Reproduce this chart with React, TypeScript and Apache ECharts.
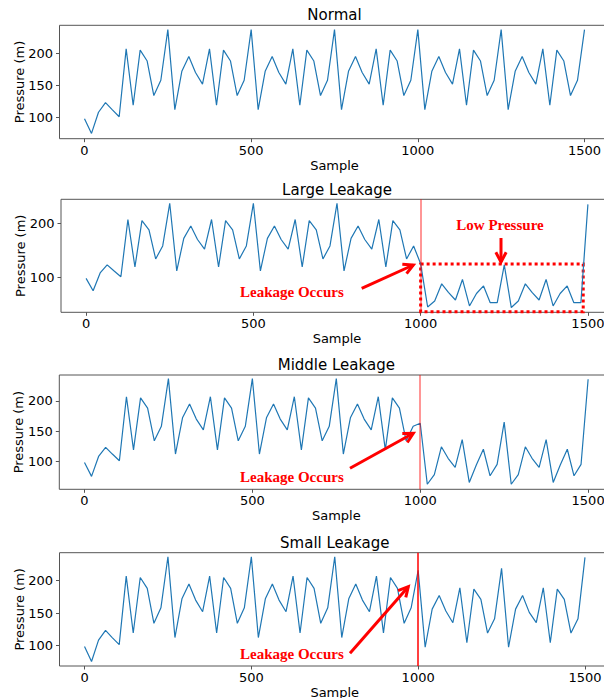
import React, { useEffect, useRef } from "react";
import * as echarts from "echarts";

// Sample index of every plotted point (x axis)
const SAMPLES = [
  0, 21, 42, 63, 83, 104, 125, 146, 167, 188, 208, 229,
  250, 271, 292, 313, 333, 354, 375, 396, 417, 438, 458, 479,
  500, 521, 542, 563, 583, 604, 625, 646, 667, 688, 708, 729,
  750, 771, 792, 813, 833, 854, 875, 896, 917, 938, 958, 979,
  1000, 1021, 1042, 1063, 1083, 1104, 1125, 1146, 1167, 1188, 1208, 1229,
  1250, 1271, 1292, 1313, 1333, 1354, 1375, 1396, 1417, 1438, 1458, 1479,
  1500,
];

const NORMAL = [
  98, 75, 108, 123, 112, 101, 207, 119, 205, 188, 134, 158,
  237, 112, 172, 195, 170, 152, 207, 119, 205, 188, 134, 158,
  237, 112, 172, 195, 170, 152, 207, 119, 205, 188, 134, 158,
  237, 112, 172, 195, 170, 152, 207, 119, 205, 188, 134, 158,
  237, 112, 172, 195, 170, 152, 207, 119, 205, 188, 134, 158,
  237, 112, 172, 195, 170, 152, 207, 119, 205, 188, 134, 158,
  237,
];

const LARGE = [
  98, 75, 108, 123, 112, 101, 207, 119, 205, 188, 134, 158,
  237, 112, 172, 195, 170, 152, 207, 119, 205, 188, 134, 158,
  237, 112, 172, 195, 170, 152, 207, 119, 205, 188, 134, 158,
  237, 112, 172, 195, 170, 152, 207, 119, 205, 188, 134, 158,
  125, 45, 56, 88, 72, 58, 96, 47, 70, 84, 53, 53,
  123, 44, 56, 88, 72, 58, 96, 47, 70, 84, 53, 53,
  235,
];

const MIDDLE = [
  98, 75, 108, 123, 112, 101, 207, 119, 205, 188, 134, 158,
  237, 112, 172, 195, 170, 152, 207, 119, 205, 188, 134, 158,
  237, 112, 172, 195, 170, 152, 207, 119, 205, 188, 134, 158,
  237, 112, 172, 195, 170, 152, 207, 119, 205, 188, 134, 158,
  163, 62, 78, 124, 105, 90, 136, 65, 94, 120, 76, 95,
  165, 62, 78, 124, 105, 90, 136, 65, 94, 120, 76, 95,
  236,
];

const SMALL = [
  98, 75, 108, 123, 112, 101, 207, 119, 205, 188, 134, 158,
  237, 112, 172, 195, 170, 152, 207, 119, 205, 188, 134, 158,
  237, 112, 172, 195, 170, 152, 207, 119, 205, 188, 134, 158,
  237, 112, 172, 195, 170, 152, 207, 119, 205, 188, 134, 158,
  216, 97, 156, 177, 153, 135, 189, 104, 187, 171, 119, 141,
  219, 97, 156, 177, 151, 135, 189, 104, 187, 171, 119, 141,
  236,
];

const SERIES_VALUES = [NORMAL, LARGE, MIDDLE, SMALL];
const TITLES = ["Normal", "Large Leakage", "Middle Leakage", "Small Leakage"];
const X_TICKS = [0, 500, 1000, 1500];
const Y_TICKS = [[100, 150, 200], [100, 200], [100, 150, 200], [100, 150, 200]];
const LEAK_SAMPLE = 1000;
const LOW_PRESSURE_BOX = { x0: 1000, x1: 1486, yTop: 124.6, yBottom: 36.3 };

// layout (pixels) and axis ranges for each panel
const LAYOUT = [
  { left: 59.5, top: 25.3, width: 550, height: 113.4, yMin: 66.7, yMax: 243.8, titleY: 15.3 },
  { left: 61, top: 199.3, width: 552, height: 113, yMin: 35.2, yMax: 244.4, titleY: 190 },
  { left: 59.3, top: 375, width: 554, height: 114.3, yMin: 53.6, yMax: 243, titleY: 365 },
  { left: 59.5, top: 552.7, width: 550.5, height: 113.3, yMin: 68, yMax: 243.3, titleY: 542.5 },
];
const LEAK_LINE_COLORS = ["", "rgba(255,0,0,0.55)", "rgba(255,0,0,0.55)", "#ff0000"];

const ANNOTATIONS = [
  { text: "Low Pressure", x: 500, y: 225, align: "center" },
  { text: "Leakage Occurs", x: 240, y: 292.3, align: "left" },
  { text: "Leakage Occurs", x: 240, y: 477.3, align: "left" },
  { text: "Leakage Occurs", x: 240, y: 654.3, align: "left" },
];
const ARROWS = [
  [501, 238, 501, 262],
  [361.7, 288.3, 413.3, 265],
  [350, 468.3, 413.3, 433.3],
  [350, 653.3, 408.3, 586.7],
];

const FONT = '"DejaVu Sans", sans-serif';
const LINE_BLUE = "#1f77b4";
const AXIS_GRAY = "#555555";

function arrowGraphics(a: number[]) {
  const [x1, y1, x2, y2] = a;
  const dx = x2 - x1;
  const dy = y2 - y1;
  const len = Math.hypot(dx, dy);
  const ux = dx / len;
  const uy = dy / len;
  const L = 11;
  const ang = (28 * Math.PI) / 180;
  const rot = (t: number) => [ux * Math.cos(t) - uy * Math.sin(t), ux * Math.sin(t) + uy * Math.cos(t)];
  const r1 = rot(ang);
  const r2 = rot(-ang);
  return [
    {
      type: "line",
      shape: { x1, y1, x2, y2 },
      style: { stroke: "#ff0000", lineWidth: 3 },
      z: 100,
    },
    {
      type: "polyline",
      shape: {
        points: [
          [x2 - L * r1[0], y2 - L * r1[1]],
          [x2, y2],
          [x2 - L * r2[0], y2 - L * r2[1]],
        ],
      },
      style: { stroke: "#ff0000", lineWidth: 3, fill: null, lineJoin: "miter" },
      z: 100,
    },
  ];
}

export default function App() {
  const ref = useRef<HTMLDivElement>(null);

  useEffect(() => {
    if (!ref.current) return;
    const chart = echarts.init(ref.current, undefined, { renderer: "svg" });

    const grids = LAYOUT.map((l) => ({
      left: l.left,
      top: l.top,
      width: l.width,
      height: l.height,
      show: true,
      borderColor: AXIS_GRAY,
      borderWidth: 1,
      backgroundColor: "transparent",
      containLabel: false,
      outerBoundsMode: "none",
    }));

    const xAxes = LAYOUT.map((l, i) => ({
      type: "value",
      gridIndex: i,
      min: -75,
      max: 1575,
      name: "Sample",
      nameLocation: "middle",
      nameGap: 20,
      nameMoveOverlap: false,
      nameTextStyle: { fontFamily: FONT, fontSize: 13, color: "#000" },
      axisLine: { show: false, onZero: false },
      axisTick: { show: true, length: 3.5, customValues: X_TICKS, lineStyle: { color: AXIS_GRAY } },
      axisLabel: {
        customValues: X_TICKS,
        formatter: (v: number) => String(v),
        fontFamily: FONT,
        fontSize: 13,
        color: "#000",
        margin: 5,
      },
      splitLine: { show: false },
    }));

    const yAxes = LAYOUT.map((l, i) => ({
      type: "value",
      gridIndex: i,
      min: l.yMin,
      max: l.yMax,
      name: "Pressure (m)",
      nameLocation: "middle",
      nameRotate: 90,
      nameGap: 34,
      nameMoveOverlap: false,
      nameTextStyle: { fontFamily: FONT, fontSize: 13, color: "#000" },
      axisLine: { show: false, onZero: false },
      axisTick: { show: true, length: 3.5, customValues: Y_TICKS[i], lineStyle: { color: AXIS_GRAY } },
      axisLabel: {
        customValues: Y_TICKS[i],
        formatter: (v: number) => String(v),
        fontFamily: FONT,
        fontSize: 13,
        color: "#000",
        margin: 6.5,
      },
      splitLine: { show: false },
    }));

    const series = SERIES_VALUES.map((vals, i) => {
      const s: any = {
        type: "line",
        xAxisIndex: i,
        yAxisIndex: i,
        data: SAMPLES.map((x, k) => [x, vals[k]]),
        showSymbol: false,
        symbol: "none",
        lineStyle: { color: LINE_BLUE, width: 1.2 },
        z: 3,
      };
      if (i > 0) {
        s.markLine = {
          silent: true,
          symbol: ["none", "none"],
          label: { show: false },
          lineStyle: { color: LEAK_LINE_COLORS[i], width: 1.5, type: "solid" },
          data: [{ xAxis: LEAK_SAMPLE }],
          z: 4,
        };
      }
      if (i === 1) {
        s.markArea = {
          silent: true,
          itemStyle: {
            color: "rgba(0,0,0,0)",
            borderColor: "#ff0000",
            borderWidth: 3,
            borderType: [3, 3],
          },
          data: [
            [
              { coord: [LOW_PRESSURE_BOX.x0, LOW_PRESSURE_BOX.yTop] },
              { coord: [LOW_PRESSURE_BOX.x1, LOW_PRESSURE_BOX.yBottom] },
            ],
          ],
        };
      }
      return s;
    });

    const titleGraphics = LAYOUT.map((l, i) => ({
      type: "text",
      x: l.left + l.width / 2,
      y: l.titleY,
      style: {
        text: TITLES[i],
        font: `15px ${FONT}`,
        fill: "#000",
        textAlign: "center",
        textVerticalAlign: "middle",
      },
      z: 100,
    }));

    const annotationGraphics = ANNOTATIONS.map((a) => ({
      type: "text",
      x: a.x,
      y: a.y,
      style: {
        text: a.text,
        font: 'bold 15px "Liberation Serif", "Times New Roman", serif',
        fill: "#ff0000",
        textAlign: a.align,
        textVerticalAlign: "middle",
      },
      z: 100,
    }));

    const arrowEls = ARROWS.flatMap((a) => arrowGraphics(a));

    chart.setOption({
      animation: false,
      backgroundColor: "#ffffff",
      grid: grids,
      xAxis: xAxes,
      yAxis: yAxes,
      series,
      graphic: { elements: [...titleGraphics, ...annotationGraphics, ...arrowEls] },
    });

    return () => chart.dispose();
  }, []);

  return (
    <div
      ref={ref}
      style={{ position: "fixed", left: 0, top: 0, width: 604, height: 698, background: "#fff" }}
    />
  );
}
